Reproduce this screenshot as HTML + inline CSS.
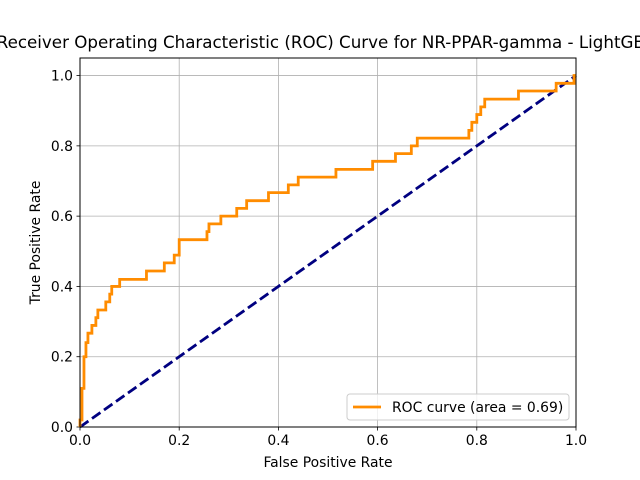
<!DOCTYPE html>
<html><head><meta charset="utf-8"><style>body{margin:0;background:#fff}svg{display:block;font-family:"DejaVu Sans","Liberation Sans",sans-serif}</style></head>
<body>
<svg id="chart" width="640" height="480" viewBox="0 0 640 480">
<rect width="640" height="480" fill="#fff"/>
<text x="328" y="48" font-size="16.7" text-anchor="middle" fill="#000">Receiver Operating Characteristic (ROC) Curve for NR-PPAR-gamma - LightGBM</text>
<g id="grid"></g><g id="ticks"></g><g id="series"></g>
<rect x="80" y="58" width="496" height="369" fill="none" stroke="#000" stroke-width="1"/>
<text x="328" y="467" font-size="13.9" text-anchor="middle">False Positive Rate</text>
<text transform="translate(40,242.5) rotate(-90)" font-size="13.9" text-anchor="middle">True Positive Rate</text>
<g>
<rect x="347" y="394" width="222" height="26" rx="3" fill="#fff" fill-opacity="0.8" stroke="#ccc"/>
<line x1="353" y1="407" x2="381" y2="407" stroke="#ff8c00" stroke-width="2.8"/>
<text x="392" y="412" font-size="13.9">ROC curve (area = 0.69)</text>
</g>
</svg>
<script>
const fpr=[0,0,0.004,0.004,0.008,0.008,0.012,0.012,0.016,0.016,0.024,0.024,0.032,0.032,0.036,0.036,0.052,0.052,0.06,0.06,0.064,0.064,0.08,0.08,0.134,0.134,0.17,0.17,0.19,0.19,0.2,0.2,0.256,0.256,0.26,0.26,0.284,0.284,0.316,0.316,0.336,0.336,0.38,0.38,0.42,0.42,0.44,0.44,0.516,0.516,0.59,0.59,0.636,0.636,0.668,0.668,0.68,0.68,0.784,0.784,0.79,0.79,0.8,0.8,0.808,0.808,0.816,0.816,0.884,0.884,0.96,0.96,0.996,0.996,1];
const tpr=[0,0.02,0.02,0.11,0.11,0.2,0.2,0.24,0.24,0.267,0.267,0.289,0.289,0.311,0.311,0.333,0.333,0.356,0.356,0.378,0.378,0.4,0.4,0.42,0.42,0.444,0.444,0.467,0.467,0.489,0.489,0.533,0.533,0.556,0.556,0.578,0.578,0.6,0.6,0.622,0.622,0.644,0.644,0.667,0.667,0.689,0.689,0.711,0.711,0.733,0.733,0.756,0.756,0.778,0.778,0.8,0.8,0.822,0.822,0.844,0.844,0.867,0.867,0.889,0.889,0.911,0.911,0.933,0.933,0.956,0.956,0.978,0.978,1.0,1.0];
const chanceX=[0,1];
const chanceY=[0,1];
const xTicks=[0,0.2,0.4,0.6,0.8,1.0];
const yTicks=[0,0.2,0.4,0.6,0.8,1.0];
const xTickLabels=["0.0","0.2","0.4","0.6","0.8","1.0"];
const yTickLabels=["0.0","0.2","0.4","0.6","0.8","1.0"];
const X0=80,X1=576,Y0=427,Y1=58;
const xs=v=>X0+v*(X1-X0);
const ys=v=>Y0-v/1.05*(Y0-Y1);
const NS="http://www.w3.org/2000/svg";
function mk(t,a,p){const e=document.createElementNS(NS,t);for(const k in a)e.setAttribute(k,a[k]);p.appendChild(e);return e;}
const grid=document.getElementById('grid'),ticks=document.getElementById('ticks'),series=document.getElementById('series');
xTicks.forEach((v,i)=>{const x=xs(v);
 const g=mk('line',{x1:x,x2:x,y1:Y1,y2:Y0,stroke:'#b0b0b0','stroke-width':0.8},grid);
 
 
 mk('line',{x1:x,x2:x,y1:Y0,y2:Y0+3.5,stroke:'#000','stroke-width':0.8},ticks);
 const t=mk('text',{x:x,y:Y0+18,'font-size':13.9,'text-anchor':'middle'},ticks);t.textContent=xTickLabels[i];
 
 });
yTicks.forEach((v,i)=>{const y=ys(v);
 const g=mk('line',{x1:X0,x2:X1,y1:y,y2:y,stroke:'#b0b0b0','stroke-width':0.8},grid);
 
 
 mk('line',{x1:X0-3.5,x2:X0,y1:y,y2:y,stroke:'#000','stroke-width':0.8},ticks);
 const t=mk('text',{x:X0-7,y:y+5,'font-size':13.9,'text-anchor':'end'},ticks);t.textContent=yTickLabels[i];
 
 });
const c=mk('polyline',{points:chanceX.map((v,i)=>xs(v)+','+ys(chanceY[i])).join(' '),fill:'none',stroke:'#000080','stroke-width':2.8,'stroke-dasharray':'10.3,4.4'},series);


const r=mk('polyline',{points:fpr.map((v,i)=>xs(v)+','+ys(tpr[i])).join(' '),fill:'none',stroke:'#ff8c00','stroke-width':2.8,'stroke-linejoin':'miter'},series);


</script>
</body></html>
